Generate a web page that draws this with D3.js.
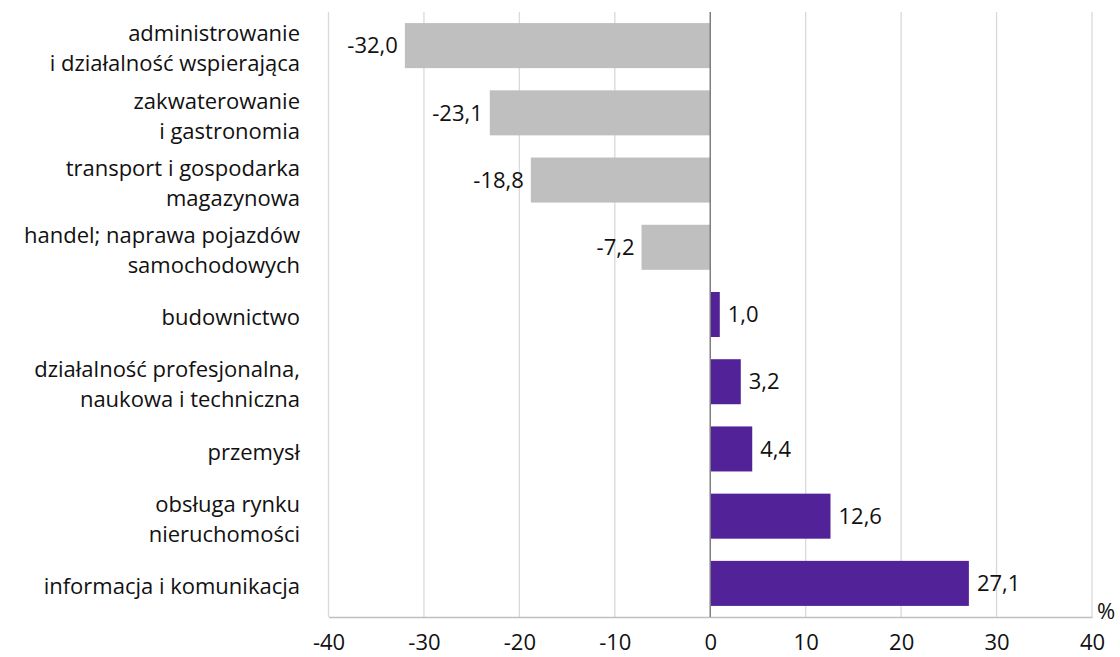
<!DOCTYPE html>
<html>
<head>
<meta charset="utf-8">
<script src="https://cdn.jsdelivr.net/npm/d3@7"></script>
<style>
  html, body { margin: 0; padding: 0; background: #fff; }
  svg text { font-family: "Open Sans", "Noto Sans", sans-serif; fill: #111; }
</style>
</head>
<body>
<svg id="chart" width="1120" height="657"></svg>
<script>
const categories = [
  ["administrowanie", "i działalność wspierająca"],
  ["zakwaterowanie", "i gastronomia"],
  ["transport i gospodarka", "magazynowa"],
  ["handel; naprawa pojazdów", "samochodowych"],
  ["budownictwo"],
  ["działalność profesjonalna,", "naukowa i techniczna"],
  ["przemysł"],
  ["obsługa rynku", "nieruchomości"],
  ["informacja i komunikacja"]
];
const values = [-32.0, -23.1, -18.8, -7.2, 1.0, 3.2, 4.4, 12.6, 27.1];
const xTicks = [-40, -30, -20, -10, 0, 10, 20, 30, 40];
const unitLabel = "%";

const colNeg = "#bfbfbf", colPos = "#522398";
const margin = { top: 12, left: 328.5, right: 28, bottom: 40 };
const W = 1120, H = 657;
const FS = "22px";
const svg = d3.select("#chart");

const x = d3.scaleLinear().domain([-40, 40]).range([margin.left, W - margin.right]);
const idx = d3.range(categories.length);
const y = d3.scaleBand().domain(idx).range([margin.top, 617]).paddingInner(0.33).paddingOuter(0.165);

// gridlines
svg.append("g").selectAll("line").data(xTicks.filter(d => d !== 0)).join("line")
  .attr("x1", d => x(d)).attr("x2", d => x(d))
  .attr("y1", margin.top).attr("y2", 617)
  .attr("stroke", "#d9d9d9").attr("stroke-width", 1.3);

// bottom axis
const axis = svg.append("g").attr("transform", "translate(0,617)")
  .call(d3.axisBottom(x).tickValues(xTicks).tickSize(0).tickPadding(17).tickFormat(d => String(d)));
axis.select(".domain").attr("stroke", "#bfbfbf").attr("stroke-width", 1.3);
axis.selectAll("text").style("font-size", FS).attr("fill", "#111");

// bars
svg.append("g").selectAll("rect").data(values).join("rect")
  .attr("x", d => x(Math.min(0, d)))
  .attr("width", d => Math.abs(x(d) - x(0)))
  .attr("y", (d, i) => y(i))
  .attr("height", y.bandwidth())
  .attr("fill", d => d < 0 ? colNeg : colPos);

// zero line
svg.append("line").attr("x1", x(0)).attr("x2", x(0)).attr("y1", margin.top).attr("y2", 617)
  .attr("stroke", "#7f7f7f").attr("stroke-width", 1.5);

// value labels
const fmt = v => v.toFixed(1).replace(".", ",");
svg.append("g").selectAll("text").data(values).join("text")
  .attr("x", d => d < 0 ? x(d) - 7 : x(d) + 8)
  .attr("y", (d, i) => y(i) + y.bandwidth() / 2)
  .attr("dy", "0.35em")
  .attr("text-anchor", d => d < 0 ? "end" : "start")
  .style("font-size", FS)
  .text(fmt);

// category labels
const catG = svg.append("g");
categories.forEach((lines, i) => {
  const cy = y(i) + y.bandwidth() / 2 + 3;
  const lh = 30;
  const t = catG.append("text")
    .attr("text-anchor", "end")
    .style("font-size", FS);
  lines.forEach((ln, j) => {
    t.append("tspan")
      .attr("x", 300)
      .attr("y", cy + (j - (lines.length - 1) / 2) * lh)
      .attr("dy", "0.35em")
      .text(ln);
  });
});

// unit label
svg.append("text").attr("x", 1106).attr("y", 611).attr("dy", "0.35em").attr("text-anchor", "middle")
  .style("font-size", FS).text(unitLabel);
</script>
</body>
</html>
